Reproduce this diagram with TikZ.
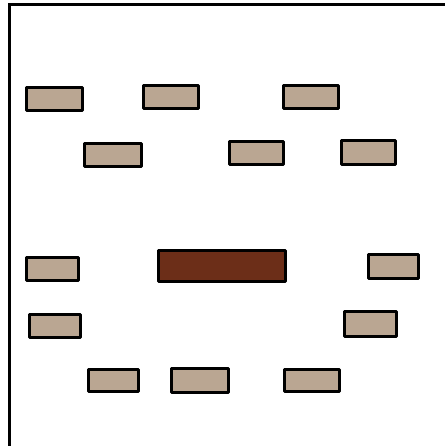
\documentclass[tikz,border=0pt]{standalone}
\usepackage{tikz}
\usetikzlibrary{positioning}
\definecolor{deskfill}{RGB}{186,166,146}
\definecolor{tablefill}{RGB}{108,46,24}

\begin{document}
\begin{tikzpicture}[
    x=1pt, y=-1pt,
    desk/.style={draw, fill=deskfill, line width=2.6pt, line join=round, inner sep=0pt, minimum width=55pt, minimum height=23pt},
    bigtable/.style={draw, fill=tablefill, line width=2.6pt, line join=round, inner sep=0pt, minimum width=127pt, minimum height=31pt},
    wall/.style={draw, line width=3.2pt}
]
    \useasboundingbox (0,0) rectangle (445,446);
    \coordinate (wl) at (9.5,446);
    \coordinate (wc) at (9.5,4.5);
    \coordinate (wr) at (445,4.5);
    \draw[wall] (wl) -- (wc) -- (wr);

    \node[desk, minimum width=56pt] (d1) at (54.5,99) {};
    \node[desk] (d2) at (171,97) {};
    \node[desk] (d3) at (311,97) {};
    \node[desk, minimum width=57pt] (d4) at (113,155) {};
    \node[desk, minimum width=54pt] (d5) at (256.5,153) {};
    \node[desk, minimum width=54pt, minimum height=24pt] (d6) at (368.5,152.5) {};

    \node[desk, minimum width=52pt] (d7) at (52.5,269) {};
    \node[bigtable] (tb) at (222,266) {};
    \node[desk, minimum width=50pt, minimum height=24pt] (d8) at (393.5,266.5) {};

    \node[desk, minimum width=51pt] (d9) at (55,326) {};
    \node[desk, minimum width=52pt, minimum height=25pt] (d10) at (370.5,324) {};

    \node[desk, minimum width=50pt, minimum height=22pt] (d11) at (113.5,380.5) {};
    \node[desk, minimum width=57pt, minimum height=24pt] (d12) at (200,380.5) {};
    \node[desk, minimum height=22pt] (d13) at (312,380.5) {};
\end{tikzpicture}
\end{document}
